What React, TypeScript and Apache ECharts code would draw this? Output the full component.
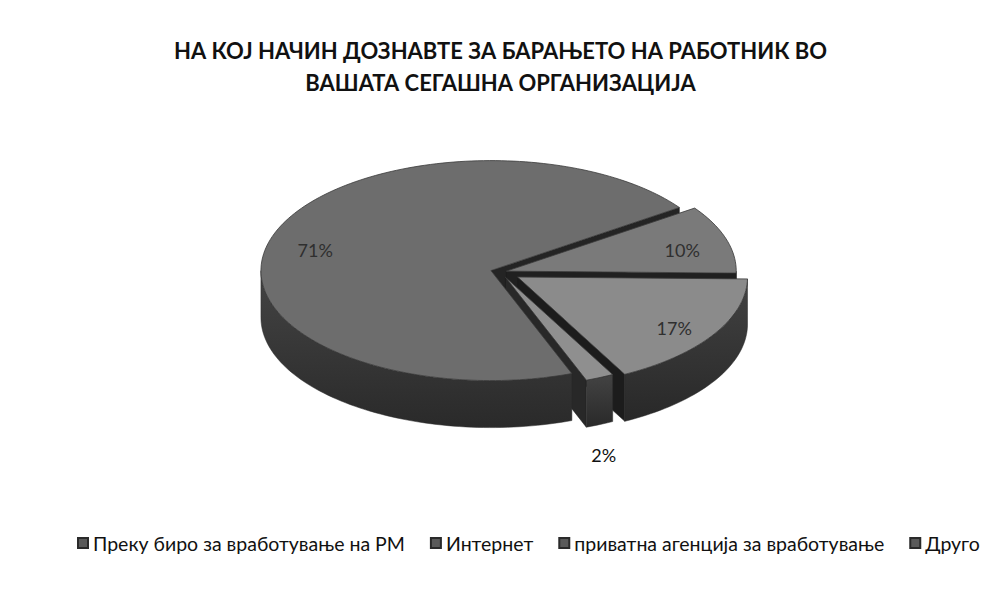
import React, { useEffect, useRef } from "react";
import * as echarts from "echarts";

const titleText =
  "НА КОЈ НАЧИН ДОЗНАВТЕ ЗА БАРАЊЕТО НА РАБОТНИК ВО\nВАШАТА СЕГАШНА ОРГАНИЗАЦИЈА";
const categories = [
  "Преку биро за вработување на РМ",
  "Интернет",
  "приватна агенција за вработување",
  "Друго",
];
const values = [71, 10, 17, 2];

// styling (not data)
const topColors = ["#6d6d6d", "#7a7a7a", "#8b8b8b", "#8f8f8f"];
const wallTop = ["#444444", "#474747", "#424242", "#434343"];
const wallBottom = ["#2a2a2a", "#2c2c2c", "#282828", "#292929"];
const faceColors = ["#242424", "#202020", "#1c1c1c", "#282828"];
const explode = [10, 6, 20, 12];
const labelInside = [true, true, true, false];

const TOTAL = values.reduce((a, b) => a + b, 0);
const START_DEG = 290.6;
const RAD = Math.PI / 180;

function sliceRange(i: number): [number, number] {
  let before = 0;
  for (let k = 0; k < i; k++) before += values[k];
  const a0 = START_DEG - (before / TOTAL) * 360;
  const a1 = a0 - (values[i] / TOTAL) * 360;
  return [a0, a1];
}

function makeRender(i: number) {
  return (params: any, api: any) => {
    const W = api.getWidth();
    const cx = W * 0.5;
    const cy = 272;
    const rx = 230;
    const ry = 110;
    const h = 47;
    const v = api.value(0);
    const [a0, a1] = sliceRange(i);
    const m = ((a0 + a1) / 2) * RAD;
    const ox = explode[i] * Math.cos(m);
    const oy = -explode[i] * Math.sin(m) * (ry / rx);
    const P = (deg: number, r: number, dz = 0) => {
      const t = deg * RAD;
      return [cx + ox + rx * r * Math.cos(t), cy + oy - ry * r * Math.sin(t) + dz];
    };
    const arc = (from: number, to: number, dz: number) => {
      const n = Math.max(2, Math.ceil(Math.abs(from - to) / 1.5));
      const pts: number[][] = [];
      for (let j = 0; j <= n; j++) pts.push(P(from + ((to - from) * j) / n, 1, dz));
      return pts;
    };
    const children: any[] = [];
    const face = (deg: number) => ({
      type: "polygon",
      z2: 1,
      shape: { points: [P(deg, 0), P(deg, 1), P(deg, 1, h), P(deg, 0, h)] },
      style: { fill: faceColors[i], stroke: "#1a1a1a", lineWidth: 0.5 },
    });
    if (Math.cos(a0 * RAD) < 0) children.push(face(a0));
    if (Math.cos(a1 * RAD) > 0) children.push(face(a1));
    for (let k = -2; k <= 2; k++) {
      const lo = 180 + 360 * k;
      const hi = 360 + 360 * k;
      const s = Math.max(a1, lo);
      const e = Math.min(a0, hi);
      if (e > s) {
        const pts = arc(e, s, 0).concat(arc(s, e, h));
        children.push({
          type: "polygon",
          z2: 2,
          shape: { points: pts },
          style: {
            fill: new echarts.graphic.LinearGradient(0, 0, 0, 1, [
              { offset: 0, color: wallTop[i] },
              { offset: 1, color: wallBottom[i] },
            ]),
            stroke: "#2a2a2a",
            lineWidth: 0.5,
          },
        });
      }
    }
    children.push({
      type: "polygon",
      z2: 3,
      shape: { points: [P(0, 0)].concat(arc(a0, a1, 0)) },
      style: { fill: topColors[i], stroke: "#3a3a3a", lineWidth: 0.8 },
    });
    const md = (a0 + a1) / 2;
    let lp: number[];
    if (labelInside[i]) {
      const p = P(md, 0.8);
      lp = [p[0], p[1] + 5];
    } else {
      const rim = P(md, 1, h);
      lp = [rim[0] + 4, rim[1] + 30];
    }
    children.push({
      type: "text",
      z2: 5,
      style: {
        text: `${v}%`,
        x: lp[0],
        y: lp[1],
        align: "center",
        verticalAlign: "middle",
        fill: labelInside[i] ? "#2f2f2f" : "#111111",
        font: "18px Lato",
      },
    });
    return { type: "group", children };
  };
}

function buildOption(): any {
  return {
    animation: false,
    backgroundColor: "#ffffff",
    title: {
      text: titleText,
      left: "center",
      top: 29,
      textStyle: {
        fontFamily: "Lato",
        fontWeight: "bold",
        fontSize: 22,
        lineHeight: 32,
        color: "#111111",
      },
    },
    legend: {
      data: categories,
      top: 528,
      left: 72,
      icon: "rect",
      itemWidth: 10,
      itemHeight: 10,
      itemGap: 25,
      textStyle: { fontFamily: "Lato", fontSize: 19.5, color: "#111111" },
    },
    series: categories.map((name, i) => ({
      type: "custom",
      name,
      coordinateSystem: "none",
      data: [[values[i]]],
      itemStyle: { color: "#5a5a5a", borderColor: "#2a2a2a", borderWidth: 1 },
      renderItem: makeRender(i),
    })),
  };
}

export default function App() {
  const ref = useRef<HTMLDivElement>(null);
  useEffect(() => {
    document.body.style.margin = "0";
    const chart = echarts.init(ref.current!, null, { renderer: "svg" });
    chart.setOption(buildOption());
    return () => chart.dispose();
  }, []);
  return <div ref={ref} style={{ width: 1001, height: 592, background: "#fff" }} />;
}
